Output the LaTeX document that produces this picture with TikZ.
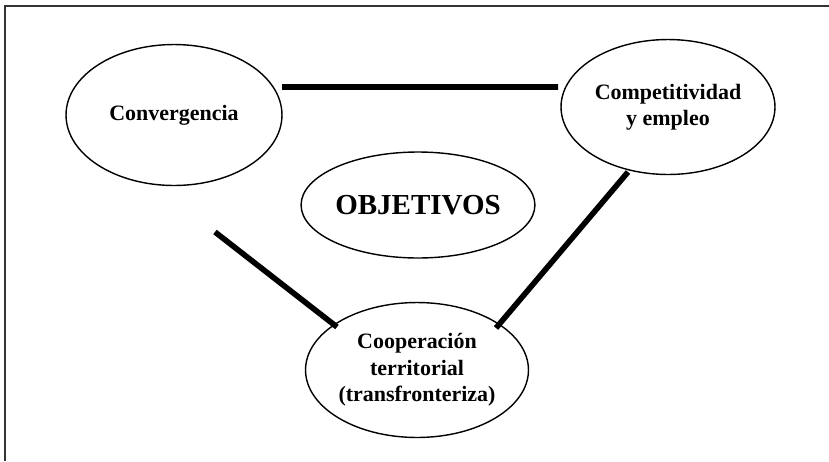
\documentclass[tikz,border=0pt]{standalone}
\usepackage{fontspec}
\setmainfont{Liberation Serif}
\usetikzlibrary{shapes.geometric}
\begin{document}
\begin{tikzpicture}[x=0.02cm,y=-0.02cm,
    every node/.style={ellipse,draw,line width=0.8pt,inner sep=0pt,align=center,
      font=\fontsize{12.5}{15}\selectfont\bfseries},
    link/.style={line width=3.2pt}]
  \useasboundingbox (0,0) rectangle (829,461);
  \draw[line width=0.8pt,black!80] (829,6) -- (5,6) -- (5,461);
  \draw
    (174,115) node[minimum width=4.32cm,minimum height=2.82cm] (conv) {Convergencia}
    (668,107) node[minimum width=4.28cm,minimum height=2.7cm] (comp) {Competitividad\\y empleo}
    (418,205) node[minimum width=4.5cm,minimum height=2.12cm,
      font=\fontsize{16.5}{18}\selectfont\bfseries] (obj) {OBJETIVOS}
    (417,370) node[minimum width=4.46cm,minimum height=2.7cm] (coop)
      {Cooperación\\territorial\\(transfronteriza)};
  \coordinate (h1) at (282,87);
  \coordinate (h2) at (558,87);
  \coordinate (l1) at (215,232);
  \coordinate (l2) at (337,327);
  \coordinate (r1) at (628,172);
  \coordinate (r2) at (496,328);
  \draw[link]
    (h1) -- (h2)
    (l1) -- (l2)
    (r1) -- (r2);
\end{tikzpicture}
\end{document}
